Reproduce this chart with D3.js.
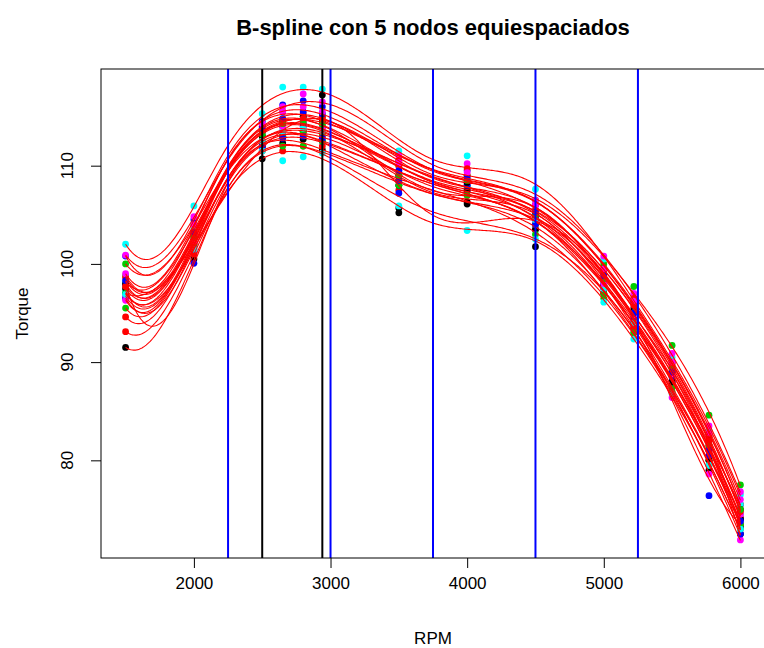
<!DOCTYPE html>
<html>
<head>
<meta charset="utf-8">
<script src="https://cdn.jsdelivr.net/npm/d3@7"></script>
<style>
  body { margin: 0; background: #fff; }
  svg { display: block; font-family: "Liberation Sans", Arial, Helvetica, sans-serif; }
</style>
</head>
<body>
<svg id="chart" width="764" height="648"></svg>
<script>
// datos: RPM de cada columna de puntos
const rpm = [1500, 2000, 2500, 2650, 2800, 2940, 3500, 4000, 4500, 5000, 5220, 5500, 5770, 6000];

// paleta de R (col = 1:6 reciclado)
const colores = ["#000000", "#FF0000", "#00CD00", "#0000FF", "#00FFFF", "#FF00FF"];

// nodos interiores equiespaciados y lineas negras
const nodos = [2250, 3000, 3750, 4500, 5250];
const lineasNegras = [2500, 2940];

const ticksX = [2000, 3000, 4000, 5000, 6000];
const ticksY = [80, 90, 100, 110];

// torque de cada curva (una fila por curva)
const torque = [
  [91.5, 100.5, 110.7, 112.3, 112.7, 111.6, 105.2, 106.1, 101.75, 97.0, 93.5, 87.5, 79.0, 72.5],
  [93.1, 101.0, 111.5, 111.5, 112.0, 112.0, 107.5, 107.0, 103.5, 97.0, 93.5, 87.5, 80.0, 73.5],
  [100.0, 104.0, 113.0, 114.5, 115.0, 115.0, 110.0, 109.0, 106.5, 100.0, 97.7, 91.7, 84.6, 77.5],
  [100.8, 104.5, 114.5, 116.2, 116.6, 116.0, 110.5, 109.5, 106.0, 99.5, 96.0, 90.0, 82.5, 75.5],
  [102.0, 105.9, 115.3, 118.0, 118.0, 117.8, 111.5, 111.0, 107.6, 100.5, 96.5, 90.5, 83.0, 76.5],
  [100.9, 104.8, 114.0, 116.0, 117.3, 116.5, 111.0, 110.2, 106.5, 100.8, 97.0, 90.9, 83.5, 76.8],
  [97.0, 102.0, 112.0, 113.0, 113.5, 117.2, 105.7, 106.3, 103.5, 98.0, 95.5, 89.5, 81.5, 73.2],
  [94.6, 101.8, 112.3, 113.0, 113.3, 113.0, 108.5, 108.0, 104.0, 97.8, 94.5, 88.5, 81.0, 74.2],
  [98.8, 102.5, 112.0, 113.0, 113.5, 113.3, 108.5, 107.8, 104.0, 97.0, 93.0, 87.5, 80.0, 73.5],
  [97.9, 100.06, 112.0, 113.5, 114.0, 112.5, 107.2, 107.5, 104.5, 98.0, 94.5, 88.0, 76.4, 74.0],
  [97.25, 102.5, 113.5, 114.8, 115.0, 114.6, 108.0, 108.0, 105.5, 98.0, 95.0, 88.5, 80.5, 74.5],
  [96.7, 102.0, 112.5, 113.5, 114.0, 113.8, 109.0, 108.2, 104.5, 97.5, 94.0, 86.4, 78.6, 71.9],
  [97.5, 102.8, 113.0, 114.0, 114.3, 114.0, 108.0, 107.5, 104.8, 97.8, 94.0, 88.0, 80.0, 74.0],
  [98.6, 103.8, 114.0, 115.5, 115.3, 115.0, 110.0, 109.7, 106.0, 99.5, 96.5, 90.0, 82.5, 75.5],
  [95.5, 102.0, 112.5, 112.0, 112.0, 112.5, 108.0, 107.0, 103.0, 96.5, 93.0, 87.0, 79.5, 73.0],
  [96.5, 101.5, 111.8, 112.8, 113.0, 112.8, 108.5, 108.0, 104.0, 97.5, 94.0, 88.5, 80.5, 73.8],
  [98.2, 103.5, 112.5, 113.5, 113.8, 113.5, 109.5, 108.5, 104.5, 97.5, 94.0, 89.0, 81.0, 75.5],
  [96.3, 102.3, 113.3, 114.0, 114.5, 114.0, 109.5, 108.5, 105.0, 98.0, 94.8, 88.8, 81.0, 74.5],
  [98.0, 103.0, 113.5, 114.5, 115.0, 114.5, 109.0, 108.3, 105.0, 99.0, 96.0, 89.0, 82.0, 75.0],
  [97.7, 103.0, 113.5, 114.3, 114.8, 114.8, 110.5, 109.0, 105.5, 99.0, 95.8, 89.8, 82.0, 74.8],
  [97.0, 102.8, 113.2, 114.3, 114.5, 114.2, 109.0, 108.5, 105.0, 98.5, 95.0, 89.3, 81.5, 75.0],
  [98.3, 103.2, 113.8, 114.8, 115.5, 115.3, 109.5, 108.8, 105.3, 98.8, 95.0, 89.0, 81.0, 72.5],
  [96.9, 101.5, 111.5, 110.5, 110.9, 111.3, 105.9, 103.4, 102.5, 96.1, 92.35, 86.8, 79.5, 73.0],
  [99.0, 104.0, 114.3, 115.5, 116.0, 115.5, 110.3, 109.3, 106.0, 99.5, 96.2, 90.0, 82.8, 76.0]
];

const svg = d3.select("#chart");
const plot = { left: 101, right: 765, top: 69, bottom: 558 };

// limites como en R: rango de los datos +/- 4%
function limR(ext) {
  const d = (ext[1] - ext[0]) * 0.04;
  return [ext[0] - d, ext[1] + d];
}
const x = d3.scaleLinear().domain(limR(d3.extent(rpm))).range([plot.left, plot.right]);
const y = d3.scaleLinear().domain(limR(d3.extent(torque.flat()))).range([plot.bottom, plot.top]);

// ---- base B-spline cubica (Cox-de Boor) ----
const grado = 3;
const a0 = rpm[0], a1 = rpm[rpm.length - 1];
const t = [a0, a0, a0, a0].concat(nodos, [a1, a1, a1, a1]);
const nBase = t.length - grado - 1;

function baseBs(v) {
  let N = [];
  for (let i = 0; i < t.length - 1; i++) N[i] = (t[i] <= v && v < t[i + 1]) ? 1 : 0;
  for (let d = 1; d <= grado; d++) {
    for (let i = 0; i < t.length - 1 - d; i++) {
      let izq = t[i + d] - t[i] > 0 ? (v - t[i]) / (t[i + d] - t[i]) * N[i] : 0;
      let der = t[i + d + 1] - t[i + 1] > 0 ? (t[i + d + 1] - v) / (t[i + d + 1] - t[i + 1]) * N[i + 1] : 0;
      N[i] = izq + der;
    }
  }
  if (v >= a1) { N = N.map(() => 0); N[nBase - 1] = 1; }
  return N.slice(0, nBase);
}

function resolver(A, b) {
  const n = b.length;
  const M = A.map((fila, i) => fila.concat([b[i]]));
  for (let c = 0; c < n; c++) {
    let p = c;
    for (let r = c + 1; r < n; r++) if (Math.abs(M[r][c]) > Math.abs(M[p][c])) p = r;
    [M[c], M[p]] = [M[p], M[c]];
    for (let r = c + 1; r < n; r++) {
      const f = M[r][c] / M[c][c];
      for (let k = c; k <= n; k++) M[r][k] -= f * M[c][k];
    }
  }
  const sol = new Array(n).fill(0);
  for (let r = n - 1; r >= 0; r--) {
    let s = M[r][n];
    for (let k = r + 1; k < n; k++) s -= M[r][k] * sol[k];
    sol[r] = s / M[r][r];
  }
  return sol;
}

// ajuste por minimos cuadrados de cada curva
const B = rpm.map(baseBs);
const BtB = d3.range(nBase).map(i => d3.range(nBase).map(j => d3.sum(B, f => f[i] * f[j])));
const rejilla = d3.range(a0, a1, 10).concat([a1]);
const rejillaBase = rejilla.map(baseBs);

const ajustes = torque.map(serie => {
  const Bty = d3.range(nBase).map(i => d3.sum(B, (f, j) => f[i] * serie[j]));
  const coef = resolver(BtB, Bty);
  return rejilla.map((v, k) => [v, d3.sum(rejillaBase[k], (b, i) => b * coef[i])]);
});

// ---- puntos ----
torque.forEach((serie, c) => {
  svg.append("g").selectAll("circle")
    .data(serie)
    .join("circle")
    .attr("cx", (d, j) => x(rpm[j]))
    .attr("cy", d => y(d))
    .attr("r", 3.4)
    .attr("fill", colores[c % colores.length]);
});

// ---- curvas ajustadas ----
const linea = d3.line().x(d => x(d[0])).y(d => y(d[1]));
svg.append("g").selectAll("path")
  .data(ajustes)
  .join("path")
  .attr("d", linea)
  .attr("fill", "none")
  .attr("stroke", "#FF0000")
  .attr("stroke-width", 1.1);

// ---- lineas verticales ----
svg.append("g").selectAll("line")
  .data(lineasNegras)
  .join("line")
  .attr("x1", d => x(d)).attr("x2", d => x(d))
  .attr("y1", plot.top).attr("y2", plot.bottom)
  .attr("stroke", "#000").attr("stroke-width", 2);

svg.append("g").selectAll("line")
  .data(nodos)
  .join("line")
  .attr("x1", d => x(d)).attr("x2", d => x(d))
  .attr("y1", plot.top).attr("y2", plot.bottom)
  .attr("stroke", "#0000FF").attr("stroke-width", 2);

// ---- caja ----
svg.append("rect")
  .attr("x", plot.left).attr("y", plot.top)
  .attr("width", plot.right - plot.left).attr("height", plot.bottom - plot.top)
  .attr("fill", "none").attr("stroke", "#000").attr("stroke-width", 1);

// ---- ejes ----
const ejeX = svg.append("g")
  .attr("transform", `translate(0,${plot.bottom})`)
  .call(d3.axisBottom(x).tickValues(ticksX).tickSize(10).tickPadding(9).tickFormat(d3.format("d")));
ejeX.select(".domain").remove();
ejeX.selectAll("text").attr("font-size", 17).attr("fill", "#000").attr("font-family", null);

const ejeY = svg.append("g")
  .attr("transform", `translate(${plot.left},0)`)
  .call(d3.axisLeft(y).tickValues(ticksY).tickSize(10).tickFormat(""));
ejeY.select(".domain").remove();

svg.append("g").selectAll("text")
  .data(ticksY)
  .join("text")
  .attr("transform", d => `translate(73,${y(d)}) rotate(-90)`)
  .attr("text-anchor", "middle")
  .attr("font-size", 17)
  .text(d => d);

// ---- titulos ----
svg.append("text")
  .attr("x", (plot.left + plot.right) / 2).attr("y", 35)
  .attr("text-anchor", "middle")
  .attr("font-size", 22)
  .attr("font-weight", "bold")
  .text("B-spline con 5 nodos equiespaciados");

svg.append("text")
  .attr("x", (plot.left + plot.right) / 2).attr("y", 644)
  .attr("text-anchor", "middle")
  .attr("font-size", 17)
  .text("RPM");

svg.append("text")
  .attr("transform", `translate(28,${(plot.top + plot.bottom) / 2}) rotate(-90)`)
  .attr("text-anchor", "middle")
  .attr("font-size", 17)
  .text("Torque");
</script>
</body>
</html>
